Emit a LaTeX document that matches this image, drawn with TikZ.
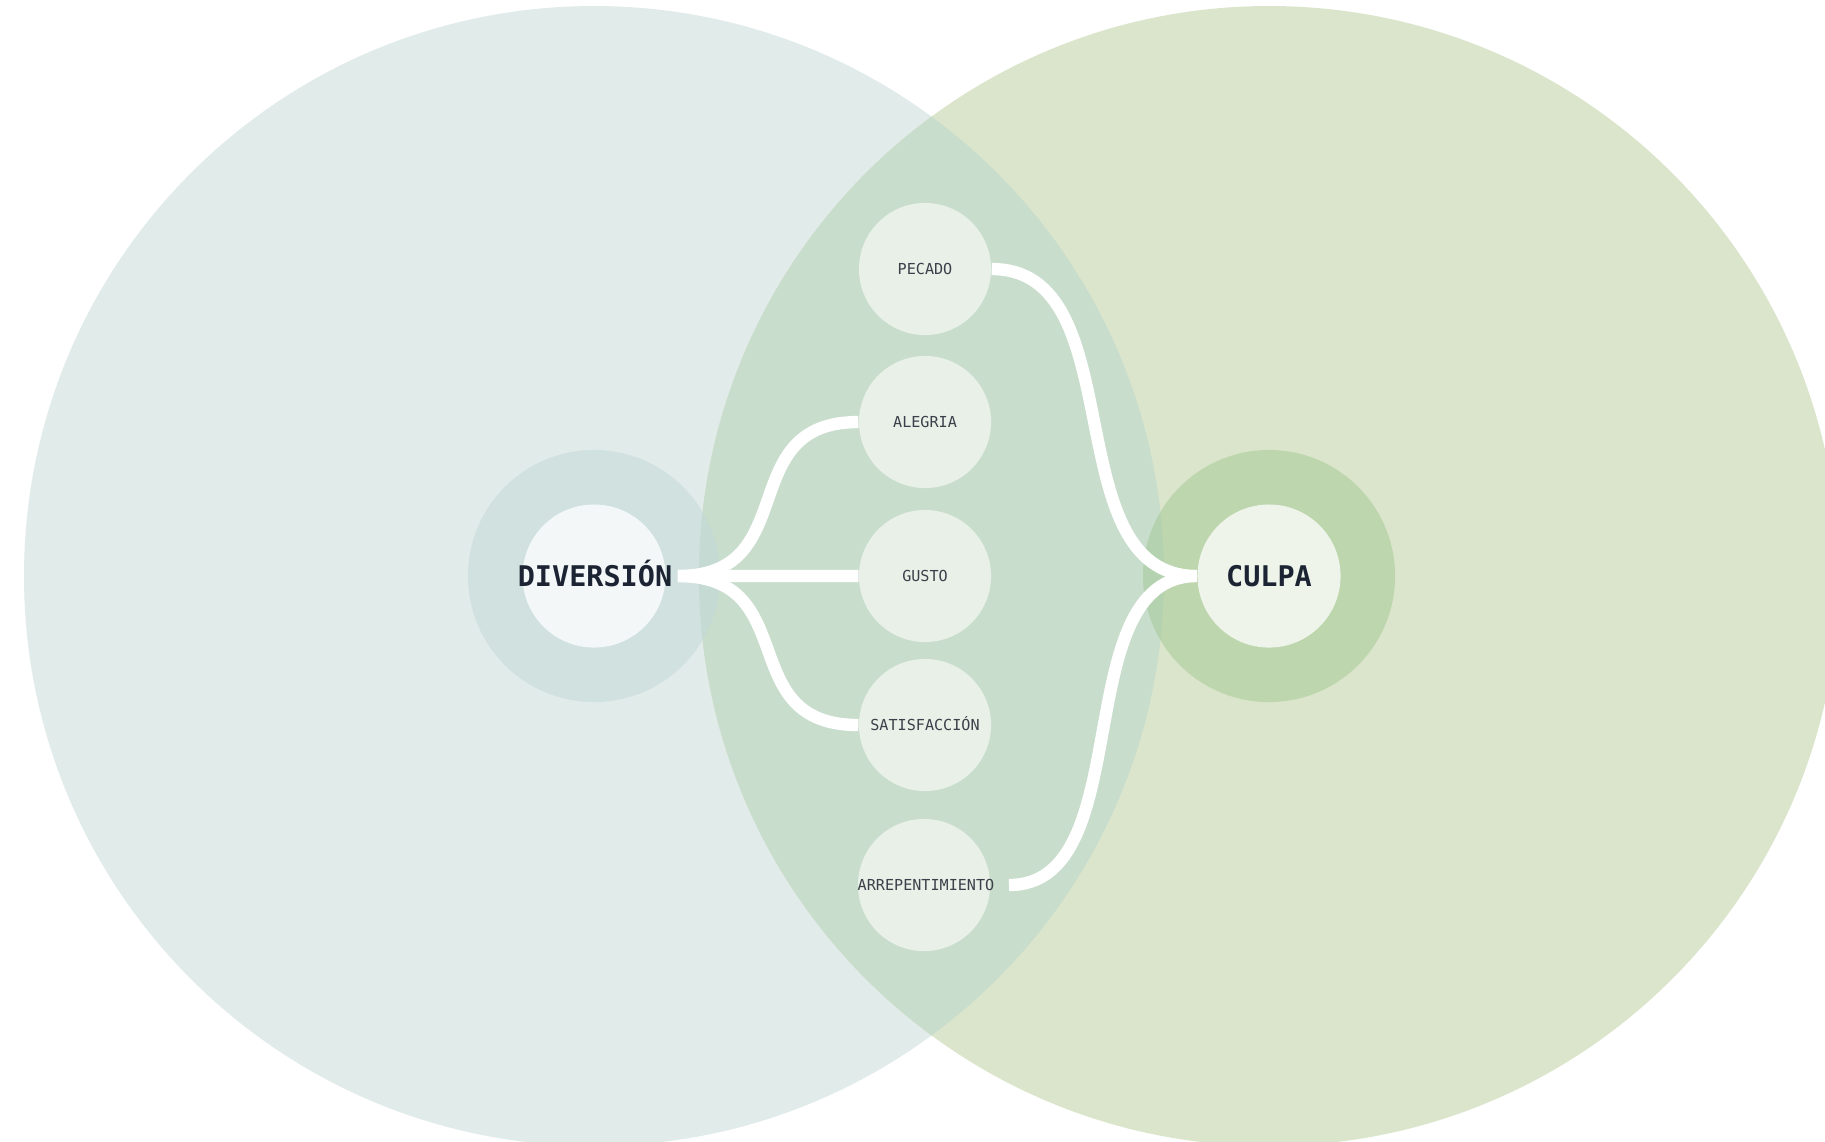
\documentclass[tikz,border=0pt]{standalone}
\usepackage{fontspec}
\setmonofont{DejaVu Sans Mono}
\usepackage{tikz}
\usetikzlibrary{calc}
\usepackage{xcolor}
\definecolor{vleft}{HTML}{E1EBEA}
\definecolor{vright}{HTML}{DBE5CC}
\definecolor{vlens}{HTML}{C9DDCD}
\definecolor{dring}{HTML}{C1D9D8}
\definecolor{dcore}{HTML}{F3F7F8}
\definecolor{cring}{HTML}{A1C992}
\definecolor{ccore}{HTML}{EEF4EA}
\definecolor{cdot}{HTML}{E8F0E7}
\definecolor{ink}{HTML}{1C2333}
\definecolor{inksoft}{HTML}{3B404A}
\tikzset{
  ring/.style     = {circle, inner sep=0pt, minimum size=2.52cm, fill opacity=0.5},
  core/.style     = {circle, inner sep=0pt, minimum size=1.43cm},
  dot/.style      = {circle, inner sep=0pt, minimum size=1.32cm, fill=cdot},
  bigtag/.style   = {inner sep=0pt, text=ink, text height=5.9pt, text depth=0pt,
                     font=\fontsize{8.1}{9}\selectfont\ttfamily\bfseries},
  smalltag/.style = {inner sep=0pt, text=inksoft, text height=3.1pt, text depth=0pt,
                     font=\fontsize{4.3}{5}\selectfont\ttfamily},
  link/.style     = {draw=white, line width=3.5pt,
                     to path={.. controls ($(\tikztostart)!0.7!(\tikztostart -| \tikztotarget)$)
                              and ($(\tikztotarget)!0.7!(\tikztotarget -| \tikztostart)$) .. (\tikztotarget)}},
}

\begin{document}
\begin{tikzpicture}[x=0.01cm,y=-0.01cm]
\useasboundingbox (0,0) rectangle (1825,1141);
% ---- venn background ----
\fill[vleft] (594,576) circle[radius=570];
\fill[vright] (1269,576) circle[radius=570];
\begin{scope}
\clip (594,576) circle[radius=570];
\fill[vlens] (1269,576) circle[radius=570];
\end{scope}
% ---- hubs ----
\node[ring, fill=dring] (Dring) at (594,576) {};
\node[core, fill=dcore] (Din) at (594,576) {};
\node[bigtag] (D) at (595,576) {DIVERSIÓN};
\node[ring, fill=cring] (Cring) at (1269,576) {};
\node[core, fill=ccore] (Cin) at (1269,576) {};
\node[bigtag] (C) at (1269,576) {CULPA};
% ---- middle column ----
\node[dot] (Pc) at (925,269) {};
\node[smalltag] (P) at (Pc) {PECADO};
\node[dot] (Lc) at (925,422) {};
\node[smalltag] (L) at (Lc) {ALEGRIA};
\node[dot] (Gc) at (925,576) {};
\node[smalltag] (G) at (Gc) {GUSTO};
\node[dot] (Sc) at (925,725) {};
\node[smalltag] (S) at (Sc) {SATISFACCIÓN};
\node[dot] (Ac) at (924,885) {};
\node[smalltag] (A) at (926,885) {ARREPENTIMIENTO};
% ---- links ----
\coordinate (Dout) at ($(D.east |- Din)+(5,0)$);
\coordinate (Aout) at ($(A.east)+(14,0)$);
\draw[link] (Dout) to (Lc.west);
\draw[link] (Dout) to (Gc.west);
\draw[link] (Dout) to (Sc.west);
\draw[link] (Pc.east) to (Cin.west);
\draw[link] (Aout) to (Cin.west);
\end{tikzpicture}
\end{document}
